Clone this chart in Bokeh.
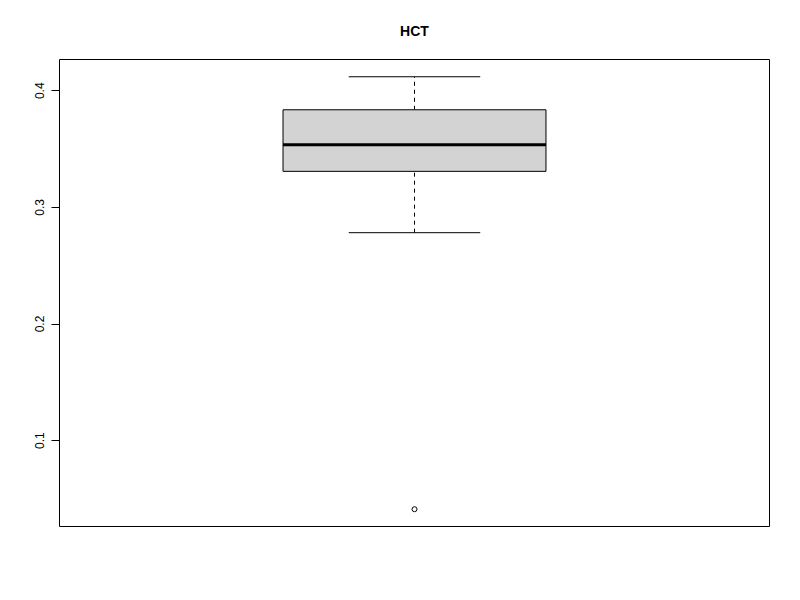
from bokeh.plotting import figure
from bokeh.models import Range1d, FixedTicker, LinearAxis
from bokeh.embed import file_html
from bokeh.resources import INLINE

groups = [1.0]
whisker_low = [0.2783]
q1 = [0.3309]
median = [0.3537]
q3 = [0.3837]
whisker_high = [0.412]
outlier_x = [1.0]
outlier_y = [0.0412]
y_ticks = [0.1, 0.2, 0.3, 0.4]

box_half = 0.2
cap_half = 0.1

p = figure(width=800, height=600, output_backend="svg", toolbar_location=None,
           x_range=Range1d(0.46, 1.54), y_range=Range1d(0.02638, 0.4268),
           x_axis_location=None, y_axis_location=None,
           min_border_left=59, min_border_right=31, min_border_top=59, min_border_bottom=74)
p.frame_width = 710
p.frame_height = 467
p.xgrid.visible = False
p.ygrid.visible = False
p.outline_line_color = "black"
p.outline_line_width = 1
p.background_fill_color = "white"
p.border_fill_color = "white"

yaxis = LinearAxis(ticker=FixedTicker(ticks=y_ticks))
yaxis.axis_line_color = None
yaxis.major_tick_out = 8
yaxis.major_tick_in = 0
yaxis.major_tick_line_color = "black"
yaxis.minor_tick_line_color = None
yaxis.major_label_orientation = "vertical"
yaxis.major_label_text_font = "Liberation Sans"
yaxis.major_label_text_font_size = "12px"
yaxis.major_label_text_color = "black"
yaxis.major_label_standoff = 7
p.add_layout(yaxis, "left")

# whiskers (dashed)
p.segment(x0=groups, y0=whisker_low, x1=groups, y1=q1, line_color="black", line_width=1, line_dash="4 4")
p.segment(x0=groups, y0=q3, x1=groups, y1=whisker_high, line_color="black", line_width=1, line_dash="4 4")
# caps
p.segment(x0=[g - cap_half for g in groups], y0=whisker_low, x1=[g + cap_half for g in groups], y1=whisker_low,
          line_color="black", line_width=1)
p.segment(x0=[g - cap_half for g in groups], y0=whisker_high, x1=[g + cap_half for g in groups], y1=whisker_high,
          line_color="black", line_width=1)
# box
p.quad(left=[g - box_half for g in groups], right=[g + box_half for g in groups], bottom=q1, top=q3,
       fill_color="#d3d3d3", line_color="black", line_width=1)
# median
p.segment(x0=[g - box_half for g in groups], y0=median, x1=[g + box_half for g in groups], y1=median,
          line_color="black", line_width=3)
# outliers
p.scatter(x=outlier_x, y=outlier_y, marker="circle", size=5, fill_color=None, line_color="black", line_width=1)

p.title.text = "HCT"
p.title.align = "center"
p.title.text_font = "Liberation Sans"
p.title.text_font_size = "14px"
p.title.text_font_style = "bold"
p.title.text_color = "black"
p.title.offset = 0
p.title.standoff = 41

open("out.html", "w").write(file_html(p, INLINE))
